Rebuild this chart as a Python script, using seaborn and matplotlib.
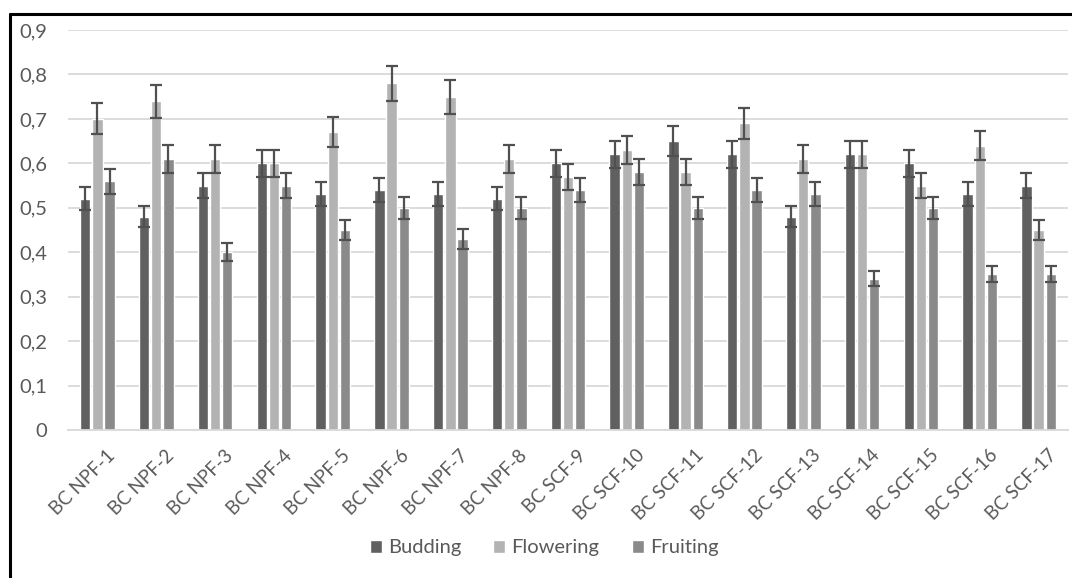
import pandas as pd
import matplotlib.pyplot as plt
import matplotlib.transforms as mtrans
import seaborn as sns
from matplotlib.lines import Line2D

# Sample names and measured values per stage
samples = ["BC NPF-1", "BC NPF-2", "BC NPF-3", "BC NPF-4", "BC NPF-5", "BC NPF-6",
           "BC NPF-7", "BC NPF-8", "BC SCF-9", "BC SCF-10", "BC SCF-11", "BC SCF-12",
           "BC SCF-13", "BC SCF-14", "BC SCF-15", "BC SCF-16", "BC SCF-17"]
stages = ["Budding", "Flowering", "Fruiting"]

budding = [0.52, 0.48, 0.55, 0.60, 0.53, 0.54, 0.53, 0.52, 0.60,
           0.62, 0.65, 0.62, 0.48, 0.62, 0.60, 0.53, 0.55]
flowering = [0.70, 0.74, 0.61, 0.60, 0.67, 0.78, 0.75, 0.61, 0.57,
             0.63, 0.58, 0.69, 0.61, 0.62, 0.55, 0.64, 0.45]
fruiting = [0.56, 0.61, 0.40, 0.55, 0.45, 0.50, 0.43, 0.50, 0.54,
            0.58, 0.50, 0.54, 0.53, 0.34, 0.50, 0.35, 0.35]

# Error bar half-lengths
budding_err = [0.026, 0.024, 0.028, 0.030, 0.027, 0.027, 0.027, 0.026, 0.030,
               0.031, 0.033, 0.031, 0.024, 0.031, 0.030, 0.027, 0.028]
flowering_err = [0.035, 0.037, 0.031, 0.030, 0.034, 0.039, 0.038, 0.031, 0.029,
                 0.032, 0.029, 0.035, 0.031, 0.031, 0.028, 0.032, 0.023]
fruiting_err = [0.028, 0.031, 0.020, 0.028, 0.023, 0.025, 0.022, 0.025, 0.027,
                0.029, 0.025, 0.027, 0.027, 0.017, 0.025, 0.018, 0.018]

ytick_vals = [0, 0.1, 0.2, 0.3, 0.4, 0.5, 0.6, 0.7, 0.8, 0.9]
ytick_labels = ["0", "0,1", "0,2", "0,3", "0,4", "0,5", "0,6", "0,7", "0,8", "0,9"]

colors = ["#606060", "#b3b3b3", "#8a8a8a"]
text_color = "#595959"

df = pd.DataFrame({
    "sample": samples * 3,
    "stage": [s for s in stages for _ in samples],
    "value": budding + flowering + fruiting,
})
errs = [budding_err, flowering_err, fruiting_err]
vals = [budding, flowering, fruiting]

sns.set_style("white")
plt.rcParams["font.family"] = ["Lato", "DejaVu Sans"]

fig = plt.figure(figsize=(10.72, 5.78), dpi=100)
ax = fig.add_axes([68 / 1072, 1 - 430 / 578, 1000 / 1072, 400 / 578])

sns.barplot(data=df, x="sample", y="value", hue="stage", palette=colors,
            width=0.62, gap=0.15, errorbar=None, ax=ax, legend=True)

# error bars at the bar centres seaborn placed
for cont, v, e in zip(ax.containers, vals, errs):
    xs = [b.get_x() + b.get_width() / 2 for b in cont]
    ax.errorbar(xs, v, yerr=e, fmt="none", ecolor="#505050",
                elinewidth=1.6, capsize=4.5, capthick=1.6, zorder=3)

ax.set_ylim(0, 0.9)
ax.set_xlim(-0.5, len(samples) - 0.5)
ax.set_yticks(ytick_vals)
ax.set_yticklabels(ytick_labels)
ax.yaxis.grid(True, color="#d9d9d9", linewidth=1.3)
ax.set_axisbelow(True)
for side in ["top", "right", "left"]:
    ax.spines[side].set_visible(False)
ax.spines["bottom"].set_color("#d9d9d9")
ax.spines["bottom"].set_linewidth(1.3)
ax.set_xlabel("")
ax.set_ylabel("")
ax.tick_params(axis="y", length=0, pad=15, labelsize=14.5, labelcolor=text_color)
ax.tick_params(axis="x", length=0, pad=12, labelsize=13.5, labelcolor=text_color)
plt.setp(ax.get_yticklabels(), ha="right")
shift = mtrans.ScaledTranslation(9 / 100, 0, fig.dpi_scale_trans)
for lab in ax.get_xticklabels():
    lab.set_rotation(45)
    lab.set_ha("right")
    lab.set_rotation_mode("anchor")
    lab.set_transform(lab.get_transform() + shift)

leg = ax.legend(loc="center", bbox_to_anchor=(544 / 1072, 1 - 548 / 578),
                bbox_transform=fig.transFigure, ncol=3, frameon=False,
                fontsize=14.5, handlelength=0.6, handleheight=0.6,
                handletextpad=0.3, columnspacing=1.6)
for t in leg.get_texts():
    t.set_color(text_color)

# chart border (top and left edges visible in the original)
fig.add_artist(Line2D([10 / 1072, 1], [1 - 14 / 578, 1 - 14 / 578],
                      color="black", linewidth=2.2, transform=fig.transFigure))
fig.add_artist(Line2D([10 / 1072, 10 / 1072], [0, 1 - 14 / 578],
                      color="black", linewidth=2.2, transform=fig.transFigure))

plt.savefig("out.png", dpi=100)
